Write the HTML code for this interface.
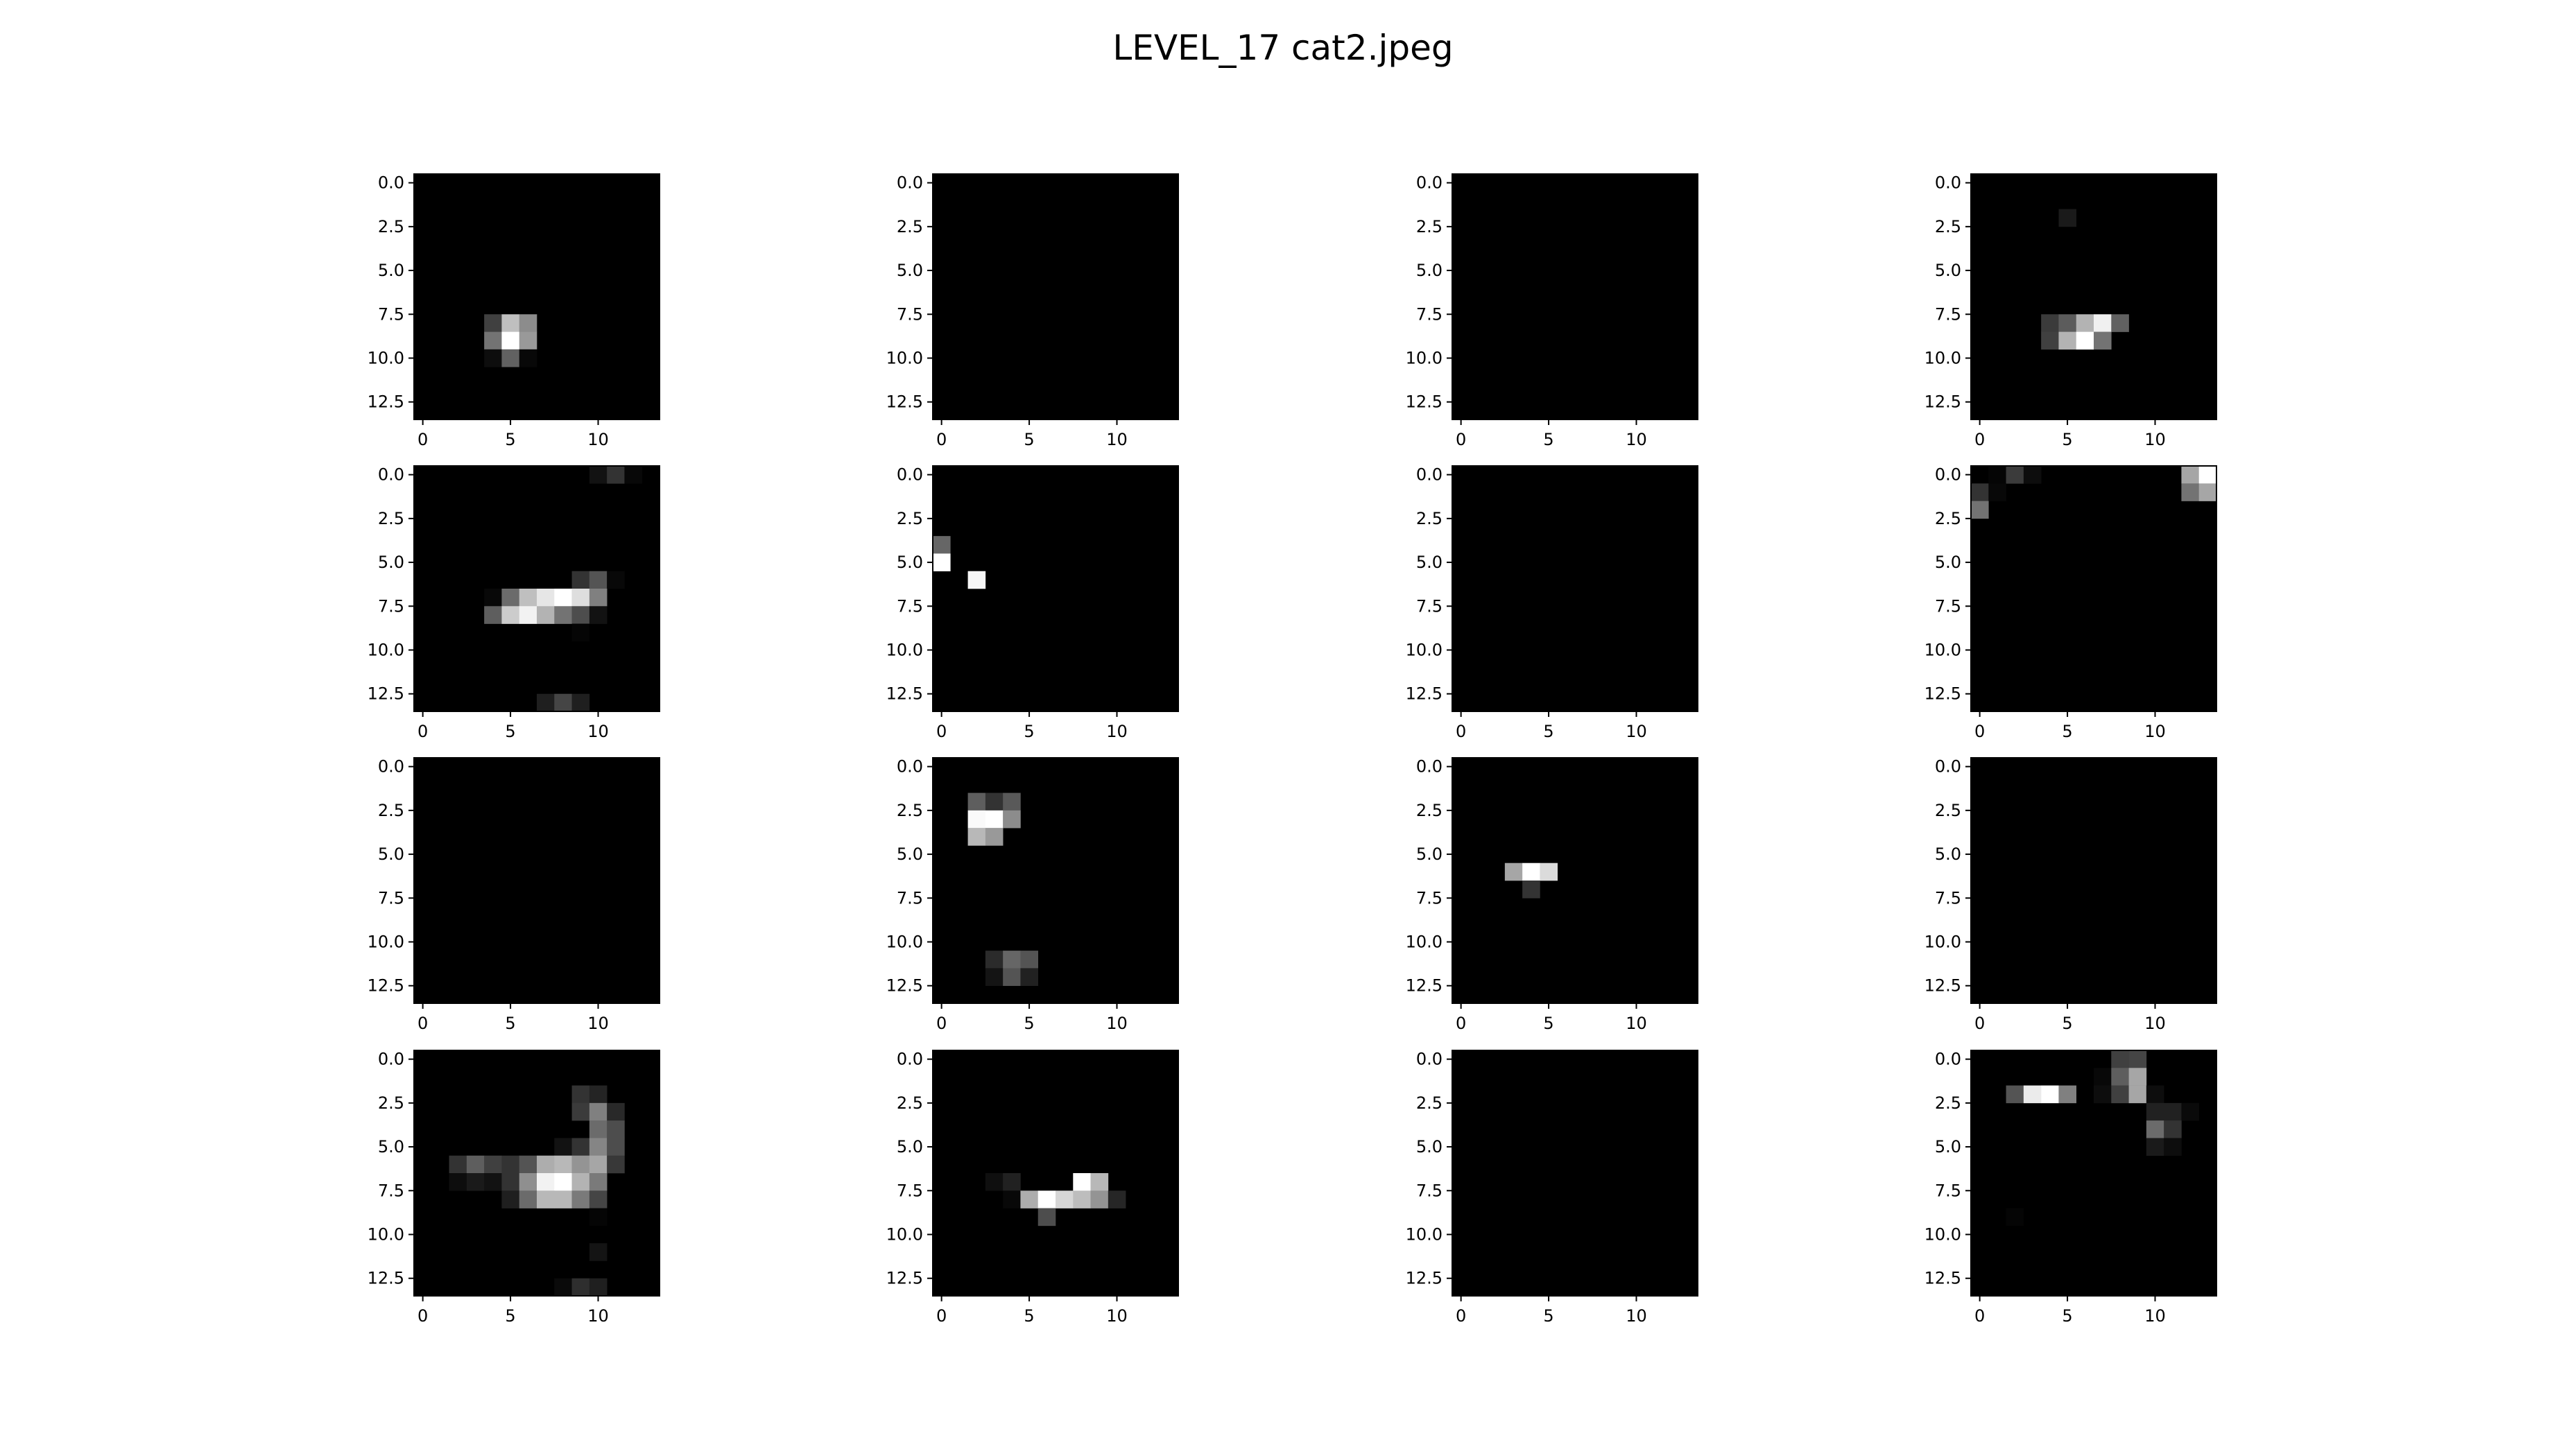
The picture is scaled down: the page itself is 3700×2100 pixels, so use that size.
<!DOCTYPE html>
<html><head><meta charset="utf-8"><style>
html,body{margin:0;padding:0;background:#fff;}
svg{display:block;font-family:"DejaVu Sans","Liberation Sans",sans-serif;}
</style></head><body>
<svg id="fig" width="3700" height="2100" viewBox="0 0 3700 2100">
<text x="1850" y="86" text-anchor="middle" font-size="50" fill="#000">LEVEL_17 cat2.jpeg</text>
</svg>
<script>
// each entry: [row, col, intensity 0..1]; unlisted cells are 0
const map1=[[8,4,.25],[8,5,.75],[8,6,.55],[9,4,.45],[9,5,1],[9,6,.6],[10,4,.05],[10,5,.38],[10,6,.03]];
const map2=[];
const map3=[];
const map4=[[2,5,.1],[8,4,.23],[8,5,.36],[8,6,.7],[8,7,.94],[8,8,.38],[9,4,.25],[9,5,.7],[9,6,1],[9,7,.45]];
const map5=[[0,10,.07],[0,11,.2],[0,12,.03],[6,9,.2],[6,10,.33],[6,11,.03],[7,4,.03],[7,5,.42],[7,6,.75],[7,7,.9],[7,8,1],[7,9,.87],[7,10,.5],[8,4,.37],[8,5,.8],[8,6,.95],[8,7,.7],[8,8,.45],[8,9,.3],[8,10,.07],[9,9,.02],[13,7,.12],[13,8,.27],[13,9,.12]];
const map6=[[4,0,.4],[5,0,1],[6,2,.97]];
const map7=[];
const map8=[[0,1,.02],[0,2,.23],[0,3,.05],[0,12,.65],[0,13,1],[1,0,.2],[1,1,.03],[1,12,.45],[1,13,.65],[2,0,.45]];
const map9=[];
const map10=[[2,2,.37],[2,3,.2],[2,4,.35],[3,2,.98],[3,3,1],[3,4,.55],[4,2,.72],[4,3,.6],[11,3,.17],[11,4,.4],[11,5,.33],[12,3,.08],[12,4,.33],[12,5,.13]];
const map11=[[6,3,.65],[6,4,1],[6,5,.86],[7,4,.2]];
const map12=[];
const map13=[[2,9,.2],[2,10,.14],[3,9,.23],[3,10,.5],[3,11,.16],[4,10,.42],[4,11,.3],[5,8,.07],[5,9,.2],[5,10,.52],[5,11,.3],[6,2,.2],[6,3,.37],[6,4,.25],[6,5,.2],[6,6,.33],[6,7,.68],[6,8,.72],[6,9,.58],[6,10,.65],[6,11,.22],[7,2,.05],[7,3,.1],[7,4,.07],[7,5,.2],[7,6,.56],[7,7,.95],[7,8,1],[7,9,.7],[7,10,.48],[8,5,.12],[8,6,.42],[8,7,.72],[8,8,.72],[8,9,.48],[8,10,.27],[9,10,.02],[11,10,.08],[13,8,.04],[13,9,.18],[13,10,.12]];
const map14=[[7,3,.06],[7,4,.13],[7,8,1],[7,9,.72],[8,4,.03],[8,5,.68],[8,6,1],[8,7,.84],[8,8,.74],[8,9,.58],[8,10,.15],[9,6,.3]];
const map15=[];
const map16=[[0,8,.25],[0,9,.27],[1,7,.03],[1,8,.37],[1,9,.65],[2,2,.33],[2,3,.92],[2,4,1],[2,5,.5],[2,7,.05],[2,8,.25],[2,9,.65],[2,10,.05],[3,10,.13],[3,11,.13],[3,12,.04],[4,10,.42],[4,11,.2],[5,10,.1],[5,11,.05],[9,2,.02]];
const yTicks=[0,2.5,5,7.5,10,12.5];
const xTicks=[0,5,10];
const gridN=14;

const maps=[map1,map2,map3,map4,map5,map6,map7,map8,map9,map10,map11,map12,map13,map14,map15,map16];
const NS="http://www.w3.org/2000/svg";
const svg=document.getElementById('fig');
const colX=[597,1345,2094,2842], rowY=[251,672,1093,1515], S=354;
function mk(t,a){const e=document.createElementNS(NS,t);for(const k in a)e.setAttribute(k,a[k]);return e;}
maps.forEach((m,i)=>{
  const x0=colX[i%4], y0=rowY[Math.floor(i/4)], c=S/gridN;
  const sx=v=>x0+(v+0.5)*c, sy=v=>y0+(v+0.5)*c;
  const g=mk('g',{});
  
  
  svg.appendChild(g);
  const bg=mk('rect',{x:x0,y:y0,width:S,height:S,fill:'#000'});
  
  
  g.appendChild(bg);
  m.forEach(([r,cc,v])=>{
    const gv=Math.round(v*255);
    const cell=mk('rect',{x:sx(cc-0.5),y:sy(r-0.5),width:c+0.3,height:c+0.3,fill:`rgb(${gv},${gv},${gv})`});
    
    
    g.appendChild(cell);
  });
  const fr=mk('rect',{x:x0,y:y0,width:S,height:S,fill:'none',stroke:'#000','stroke-width':2});
  
  
  g.appendChild(fr);
  yTicks.forEach(t=>{
    const y=sy(t);
    const tk=mk('line',{x1:x0-8,x2:x0,y1:y,y2:y,stroke:'#000','stroke-width':2});
    
    
    g.appendChild(tk);
    const lb=mk('text',{x:x0-14,y:y+8,'text-anchor':'end','font-size':24,fill:'#000'});
    lb.textContent=t.toFixed(1);
    
    
    g.appendChild(lb);
  });
  xTicks.forEach(t=>{
    const x=sx(t);
    const tk=mk('line',{x1:x,x2:x,y1:y0+S,y2:y0+S+8,stroke:'#000','stroke-width':2});
    
    
    g.appendChild(tk);
    const lb=mk('text',{x:x,y:y0+S+37,'text-anchor':'middle','font-size':24,fill:'#000'});
    lb.textContent=String(t);
    
    
    g.appendChild(lb);
  });
});
</script>
</body></html>
